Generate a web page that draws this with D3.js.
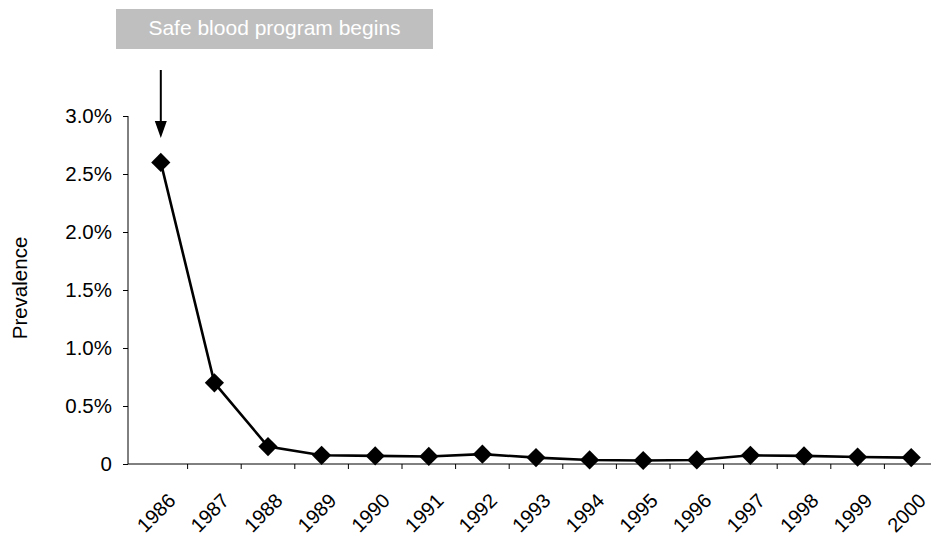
<!DOCTYPE html>
<html>
<head>
<meta charset="utf-8">
<script src="https://cdn.jsdelivr.net/npm/d3@7"></script>
<style>
  body { margin: 0; background: #fff; }
  svg { display: block; font-family: "Liberation Sans", Arial, sans-serif; }
</style>
</head>
<body>
<div id="chart"></div>
<script>
// prevalence (%) by year
var years = ["1986", "1987", "1988", "1989", "1990", "1991", "1992", "1993",
             "1994", "1995", "1996", "1997", "1998", "1999", "2000"];
var prevalence = [2.6, 0.7, 0.15, 0.075, 0.07, 0.065, 0.085, 0.055,
                  0.035, 0.03, 0.035, 0.075, 0.07, 0.06, 0.055];
var yTicks = [0, 0.5, 1, 1.5, 2, 2.5, 3];
var bannerText = "Safe blood program begins";
var yTitle = "Prevalence";

var W = 931, H = 536;
var axisX = 128, axisY = 464, topY = 116;

var svg = d3.select("#chart").append("svg")
	.attr("width", W)
	.attr("height", H);

var x = d3.scaleBand().domain(years).range([134, 938]).padding(0);
var y = d3.scaleLinear().domain([0, 3]).range([axisY, topY]);

var data = years.map(function(d, i) { return {year: d, val: prevalence[i]}; });

// y axis
var yAxis = svg.append("g")
	.attr("transform", "translate(" + axisX + ",0)")
	.call(d3.axisLeft(y).tickValues(yTicks).tickSize(5).tickPadding(11)
		.tickFormat(function(d) { return d === 0 ? "0" : d3.format(".1f")(d) + "%"; }));
yAxis.select(".domain").attr("d", "M0," + topY + "V" + axisY).attr("stroke", "#000");
yAxis.selectAll(".tick line").attr("stroke", "#000");
yAxis.selectAll(".tick text")
	.style("font-size", "20.5px")
	.attr("fill", "#000");

// x axis: line plus ticks at the band edges
svg.append("line")
	.attr("x1", axisX).attr("x2", W)
	.attr("y1", axisY).attr("y2", axisY)
	.attr("stroke", "#000");

svg.selectAll(".xtick")
	.data(years.slice(1))
	.enter().append("line")
	.attr("class", "xtick")
	.attr("x1", function(d) { return x(d); })
	.attr("x2", function(d) { return x(d); })
	.attr("y1", axisY)
	.attr("y2", axisY + 5)
	.attr("stroke", "#000");

svg.selectAll(".xlab")
	.data(years)
	.enter().append("text")
	.attr("class", "xlab")
	.attr("transform", function(d) {
		return "translate(" + (x(d) + x.bandwidth() / 2 + 11) + "," + (axisY + 33) + ") rotate(-45)";
	})
	.attr("text-anchor", "end")
	.attr("dy", "0.35em")
	.style("font-size", "20px")
	.text(function(d) { return d; });

// y title
svg.append("text")
	.attr("transform", "translate(27," + 288 + ") rotate(-90)")
	.attr("text-anchor", "middle")
	.style("font-size", "20.5px")
	.text(yTitle);

// line + diamonds
var line = d3.line()
	.x(function(d) { return x(d.year) + x.bandwidth() / 2; })
	.y(function(d) { return y(d.val); });

svg.append("path")
	.datum(data)
	.attr("fill", "none")
	.attr("stroke", "#000")
	.attr("stroke-width", 2.6)
	.attr("d", line);

svg.selectAll(".dot")
	.data(data)
	.enter().append("path")
	.attr("class", "dot")
	.attr("transform", function(d) {
		return "translate(" + (x(d.year) + x.bandwidth() / 2) + "," + y(d.val) + ")";
	})
	.attr("d", d3.symbol().type(d3.symbolDiamond2).size(235))
	.attr("fill", "#000");

// banner
var bx = 116, bw = 317;
svg.append("rect")
	.attr("x", bx).attr("y", 9)
	.attr("width", bw).attr("height", 40)
	.attr("fill", "#bfbfbf");
svg.append("text")
	.attr("x", bx + bw / 2)
	.attr("y", 35)
	.attr("text-anchor", "middle")
	.attr("fill", "#fff")
	.style("font-size", "21px")
	.text(bannerText);

// arrow pointing at the first point
var ax = x(years[0]) + x.bandwidth() / 2;
svg.append("line")
	.attr("x1", ax).attr("x2", ax)
	.attr("y1", 70).attr("y2", 124)
	.attr("stroke", "#000")
	.attr("stroke-width", 2);
svg.append("path")
	.attr("d", "M" + (ax - 6) + ",121L" + (ax + 6) + ",121L" + ax + ",138Z")
	.attr("fill", "#000");
</script>
</body>
</html>
